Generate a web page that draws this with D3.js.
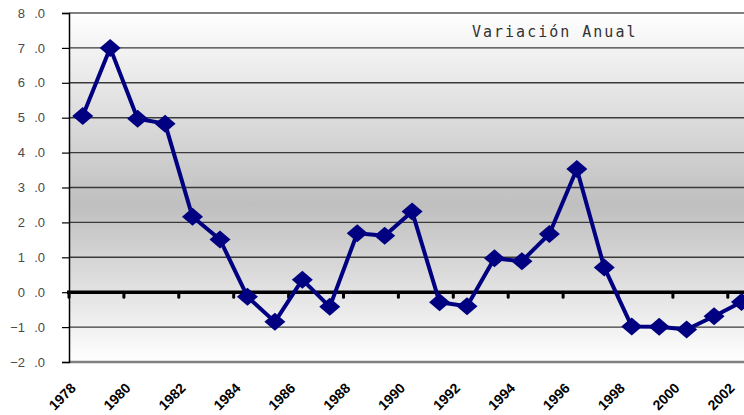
<!DOCTYPE html>
<html>
<head>
<meta charset="utf-8">
<script src="https://cdn.jsdelivr.net/npm/d3@7"></script>
<style>
  body { margin: 0; background: #fff; }
  svg { display: block; }
</style>
</head>
<body>
<svg id="chart" width="744" height="415"></svg>
<script>
// years and annual variation (%)
var years = ["1978","1979","1980","1981","1982","1983","1984","1985","1986","1987","1988","1989",
  "1990","1991","1992","1993","1994","1995","1996","1997","1998","1999","2000","2001","2002"];
var values = [5.05, 7.0, 4.97, 4.83, 2.16, 1.51, -0.13, -0.85, 0.36, -0.42, 1.69, 1.62,
  2.31, -0.29, -0.4, 0.97, 0.89, 1.67, 3.53, 0.71, -0.98, -0.99, -1.07, -0.69, -0.28];
var yTicks = [-2, -1, 0, 1, 2, 3, 4, 5, 6, 7, 8];
var xLabels = ["1978","1980","1982","1984","1986","1988","1990","1992","1994","1996","1998","2000","2002"];
var title = "Variación Anual";

(function () {

  var svg = d3.select("#chart");

  // plot area (it runs past the right edge of the picture)
  var plotLeft = 69, plotTop = 13, plotBottom = 362, step = 27.45;

  var x = d3.scaleBand()
    .domain(years)
    .range([plotLeft, plotLeft + years.length * step])
    .paddingInner(0).paddingOuter(0);

  var y = d3.scaleLinear()
    .domain([-2, 8])
    .range([plotBottom, plotTop]);

  // background gradient of the plot area
  var defs = svg.append("defs");
  var grad = defs.append("linearGradient")
    .attr("id", "bg")
    .attr("x1", 0).attr("y1", 0).attr("x2", 0).attr("y2", 1);
  grad.append("stop").attr("offset", "0%").attr("stop-color", "#ffffff");
  grad.append("stop").attr("offset", "55%").attr("stop-color", "#bfbfbf");
  grad.append("stop").attr("offset", "100%").attr("stop-color", "#ffffff");

  svg.append("rect")
    .attr("x", plotLeft).attr("y", plotTop)
    .attr("width", 744 - plotLeft).attr("height", plotBottom - plotTop)
    .attr("fill", "url(#bg)");

  // gridlines
  svg.append("g")
    .selectAll("line")
    .data(yTicks.filter(function (d) { return d != 0 && d != -2 && d != 8; }))
    .enter().append("line")
    .attr("x1", plotLeft).attr("x2", 744)
    .attr("y1", function (d) { return y(d); })
    .attr("y2", function (d) { return y(d); })
    .attr("stroke", "#3a3a3a")
    .attr("stroke-width", 1.4);

  // plot border top / bottom
  svg.append("line")
    .attr("x1", plotLeft).attr("x2", 744)
    .attr("y1", y(8)).attr("y2", y(8))
    .attr("stroke", "#808080").attr("stroke-width", 2);
  svg.append("line")
    .attr("x1", plotLeft).attr("x2", 744)
    .attr("y1", y(-2)).attr("y2", y(-2))
    .attr("stroke", "#808080").attr("stroke-width", 2.5);

  // y axis, labels written like "5 .0"
  var yAxis = d3.axisLeft(y)
    .tickValues(yTicks)
    .tickSize(7)
    .tickPadding(17)
    .tickFormat(function (d) {
      var s = d3.format(".1f")(Math.abs(d)).replace(".", "\u2002\u2009.");
      return (d < 0 ? "\u2212" : "") + s;
    });

  var gy = svg.append("g")
    .attr("transform", "translate(" + plotLeft + ",0)")
    .call(yAxis);
  gy.select(".domain").attr("stroke", "#000").attr("stroke-width", 1.5);
  gy.selectAll(".tick line").attr("stroke", "#000").attr("stroke-width", 1.2);
  gy.selectAll(".tick text")
    .attr("fill", "#4a4a4a")
    .style("font-family", "Liberation Sans, Arial, sans-serif")
    .style("font-size", "13px");

  // zero axis line with tick marks between categories
  svg.append("line")
    .attr("x1", plotLeft - 2).attr("x2", 744)
    .attr("y1", y(0)).attr("y2", y(0))
    .attr("stroke", "#000").attr("stroke-width", 3.5);

  svg.append("g")
    .selectAll("line")
    .data(xLabels)
    .enter().append("line")
    .attr("x1", function (d) { return x(d); })
    .attr("x2", function (d) { return x(d); })
    .attr("y1", y(0)).attr("y2", y(0) + 5)
    .attr("stroke", "#000").attr("stroke-width", 3)
    .attr("stroke-linecap", "round");

  // x labels
  svg.append("g")
    .selectAll("text")
    .data(xLabels)
    .enter().append("text")
    .attr("transform", function (d) {
      return "translate(" + (x(d) + x.bandwidth() / 2 - 6) + ",389) rotate(-45)";
    })
    .attr("text-anchor", "end")
    .style("font-family", "Liberation Sans, Arial, sans-serif")
    .style("font-size", "14px")
    .style("font-weight", "bold")
    .attr("fill", "#000")
    .text(function (d) { return d; });

  // line
  var line = d3.line()
    .x(function (d, i) { return x(years[i]) + x.bandwidth() / 2; })
    .y(function (d) { return y(d); });

  svg.append("path")
    .datum(values)
    .attr("d", line)
    .attr("fill", "none")
    .attr("stroke", "#000080")
    .attr("stroke-width", 4)
    .attr("stroke-linejoin", "round");

  // diamond markers
  svg.append("g")
    .selectAll("path")
    .data(values)
    .enter().append("path")
    .attr("transform", function (d, i) {
      return "translate(" + (x(years[i]) + x.bandwidth() / 2) + "," + y(d) + ")";
    })
    .attr("d", "M0,-9L10.5,0L0,9L-10.5,0Z")
    .attr("fill", "#000080");

  // title
  svg.append("text")
    .attr("x", 472).attr("y", 37)
    .style("font-family", "DejaVu Sans Mono, monospace")
    .style("font-size", "15px")
    .style("letter-spacing", "2px")
    .attr("fill", "#333")
    .text(title);

})();
</script>
</body>
</html>
